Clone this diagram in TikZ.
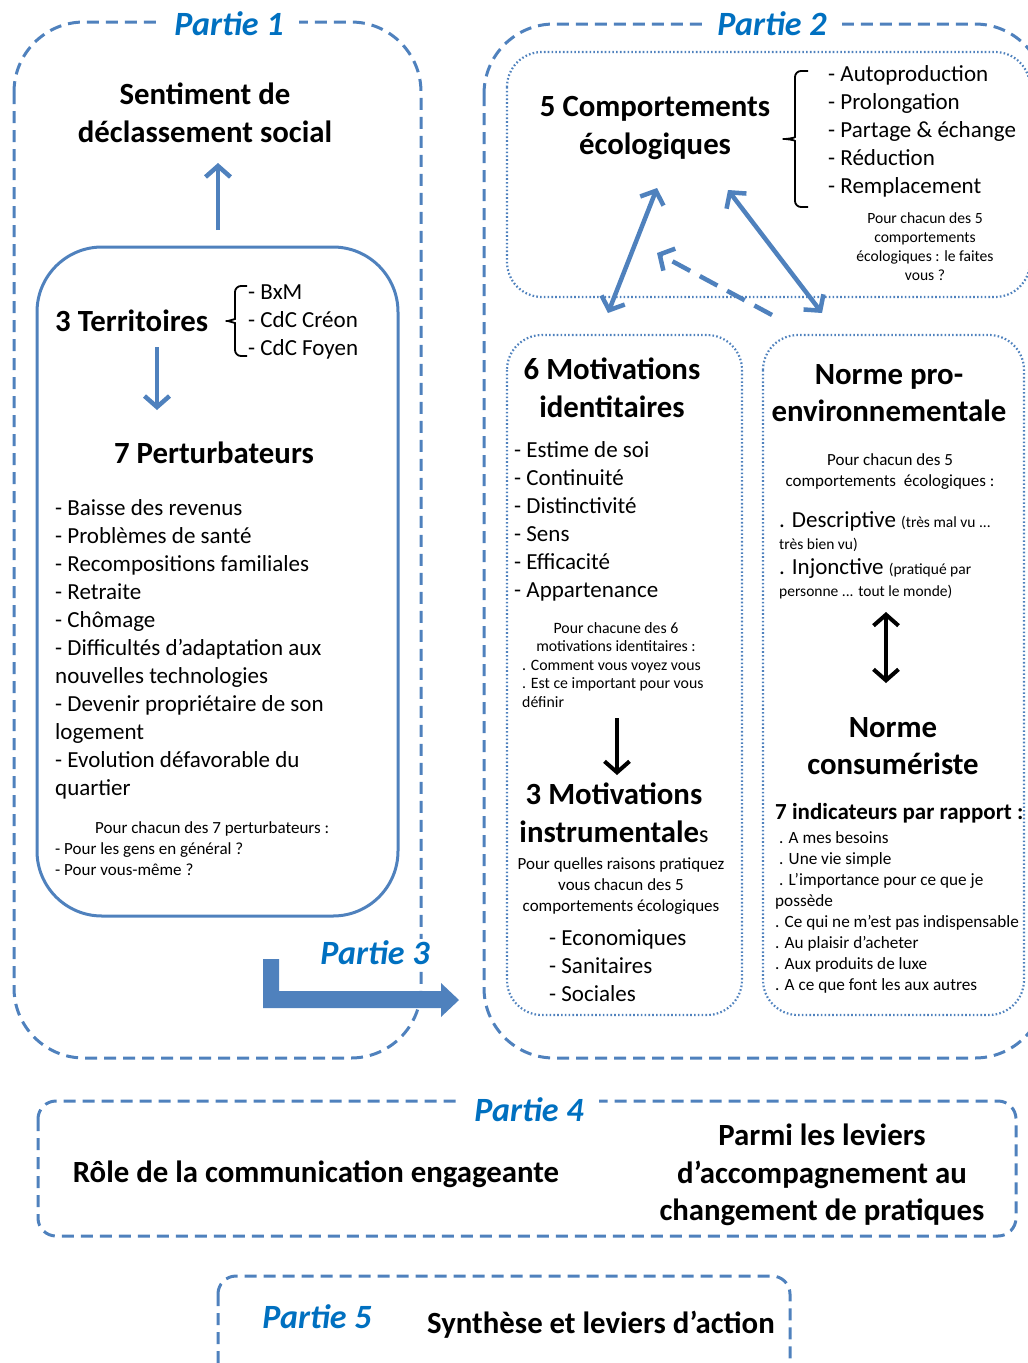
\documentclass[tikz,border=0pt]{standalone}
\usepackage{fontspec}
\setmainfont{Carlito}
\usetikzlibrary{arrows.meta}

\definecolor{lineblue}{RGB}{79,129,189}
\definecolor{titleblue}{RGB}{0,112,192}
\newcommand{\fs}[2]{\fontsize{#1}{#2}\selectfont}

\tikzset{
  part/.style={font=\fs{34}{40}\bfseries\itshape, text=titleblue, fill=white, inner xsep=15pt, inner ysep=2pt},
  head/.style={font=\fs{30.8}{37.5}\bfseries, align=center, inner sep=0pt},
  items/.style={font=\fs{23}{28}, align=left, inner sep=0pt, anchor=north west},
  note/.style={font=\fs{17}{21}, align=center, inner sep=0pt},
  dashbox/.style={draw=lineblue, line width=3pt, dash pattern=on 12pt off 7pt, rounded corners=70pt},
  dotbox/.style={draw=lineblue, line width=2.2pt, dash pattern=on 1.6pt off 2.2pt, rounded corners=35pt},
  solidbox/.style={draw=lineblue, line width=3pt, rounded corners=65pt},
  brace/.style={draw=black, line width=1.8pt, rounded corners=6pt},
  barrow/.style={draw=lineblue, line width=4.5pt},
  karrow/.style={draw=black, line width=4pt},
}

\begin{document}
\begin{tikzpicture}[x=1pt, y=-1pt, >={Straight Barb[length=11pt, width=25pt]}]
    \useasboundingbox (0,0) rectangle (1028,1363);

    % Frames
    \draw[dashbox] (14,22) rectangle (421,1058);
    \draw[dashbox] (484,24) rectangle (1045,1058);
    \draw[dotbox] (507,52) rectangle (1030,297);
    \draw[dotbox] (507,335) rectangle (742,1015);
    \draw[dotbox] (763,335) rectangle (1024,1015);
    \draw[dashbox, rounded corners=18pt] (38,1101) rectangle (1016,1236);
    \draw[dashbox, rounded corners=18pt] (218,1276) rectangle (790,1390);
    \draw[solidbox] (37,247) rectangle (398,916);

    % Partie 1
    \node[head] (sent) at (205,113) {Sentiment de\\déclassement social};
    \coordinate (up0) at (218,230);
    \coordinate (up1) at (218,163);
    \draw[barrow, ->] (up0) -- (up1);
    \node[head, anchor=west] (terr) at (55,321) {3 Territoires};
    \draw[brace] (247,286) -| (235,313) to[out=-90, in=0] (222,321) to[out=0, in=90] (235,329) |- (247,356);
    \node[items] (terrlist) at (248,285) {- BxM\\- CdC Créon\\- CdC Foyen};
    \coordinate (dn0) at (157,347);
    \coordinate (dn1) at (157,410);
    \draw[barrow, ->] (dn0) -- (dn1);
    \node[head] (pert) at (214,453) {7 Perturbateurs};
    \node[items] (pertlist) at (55,499) {- Baisse des revenus\\- Problèmes de santé\\- Recompositions familiales\\- Retraite\\- Chômage\\- Difficultés d’adaptation aux\\nouvelles technologies\\- Devenir propriétaire de son\\logement\\- Evolution défavorable du\\quartier};
    \node[note, align=left, anchor=north west] (pertnote) at (55,821) {\hspace*{40pt}Pour chacun des 7 perturbateurs :\\- Pour les gens en général ?\\- Pour vous-même ?};

    % Partie 2
    \node[head] (comp) at (655,128) {5 Comportements\\écologiques};
    \draw[brace] (808,71) -| (795,131) to[out=-90, in=0] (779,139) to[out=0, in=90] (795,147) |- (808,207);
    \node[items] (complist) at (828,65) {- Autoproduction\\- Prolongation\\- Partage \& échange\\- Réduction\\- Remplacement};
    \node[note, font=\fs{15.6}{19}] (compnote) at (925,247) {Pour chacun des 5\\comportements\\écologiques : le faites\\vous ?};
    \coordinate (ta) at (657,188);
    \coordinate (tb) at (608,313);
    \coordinate (tc) at (728,190);
    \coordinate (td) at (822,313);
    \coordinate (te) at (772,315);
    \coordinate (tf) at (657,253);
    \draw[barrow, <->] (ta) -- (tb);
    \draw[barrow, <->] (tc) -- (td);
    \draw[barrow, ->, dash pattern=on 20pt off 11pt] (te) -- (tf);

    \node[head] (motid) at (612,388) {6 Motivations\\identitaires};
    \node[items] (motidlist) at (514,441) {- Estime de soi\\- Continuité\\- Distinctivité\\- Sens\\- Efficacité\\- Appartenance};
    \node[note, font=\fs{15.8}{18.5}] (motidnote) at (616,637) {Pour chacune des 6\\motivations identitaires :};
    \node[note, font=\fs{15.8}{18.5}, align=left, anchor=north west] (motidq) at (522,660) {. Comment vous voyez vous\\. Est ce important pour vous\\définir};
    \coordinate (ka) at (617,718);
    \coordinate (kb) at (617,775);
    \draw[karrow, ->] (ka) -- (kb);
    \node[head] (motins) at (614,813) {3 Motivations\\instrumentale{\mdseries\fs{24}{37.5}s}};
    \node[note] (motinsnote) at (621,886) {Pour quelles raisons pratiquez\\vous chacun des 5\\comportements écologiques};
    \node[items] (motinslist) at (549,929) {- Economiques\\- Sanitaires\\- Sociales};

    \node[head] (npe) at (889,393) {Norme pro-\\environnementale};
    \node[note] (npenote) at (890,472) {Pour chacun des 5\\comportements\ \ écologiques :};
    \node[items, font=\fs{23}{22}] (npelist) at (779,511) {. Descriptive {\fs{15.5}{22}(très mal vu ...}\\{\fs{15.5}{22}très bien vu)}\\[3pt]. Injonctive {\fs{15.5}{22}(pratiqué par}\\{\fs{15.5}{22}personne ... tout le monde)}};
    \coordinate (kc) at (886,612);
    \coordinate (kd) at (886,683);
    \draw[karrow, <->] (kc) -- (kd);
    \node[head] (ncons) at (893,746) {Norme\\consumériste};
    \node[items, font=\fs{23}{28}\bfseries] (ncind) at (775,803) {7 indicateurs par rapport :};
    \node[items, font=\fs{17.2}{21}] (nconslist) at (775,831) {\hspace*{4pt}. A mes besoins\\\hspace*{4pt}. Une vie simple\\\hspace*{4pt}. L’importance pour ce que je\\possède\\. Ce qui ne m’est pas indispensable\\. Au plaisir d’acheter\\. Aux produits de luxe\\. A ce que font les aux autres};

    % Partie 3
    \fill[lineblue] (263,959) -- (279,959) -- (279,991) -- (441,991) -- (441,983) -- (459,1000) -- (441,1017) -- (441,1008) -- (263,1008) -- cycle;

    % Partie 4 and 5
    \node[head] (comm) at (316,1174) {Rôle de la communication engageante};
    \node[head] (levier) at (822,1175) {Parmi les leviers\\d’accompagnement au\\changement de pratiques};
    \node[head] (synth) at (601,1325) {Synthèse et leviers d’action};

    % Titles
    \node[part] (p1) at (229,24) {Partie 1};
    \node[part] (p2) at (772,24) {Partie 2};
    \node[part] (p3) at (375,953) {Partie 3};
    \node[part] (p4) at (529,1110) {Partie 4};
    \node[part] (p5) at (317,1317) {Partie 5};
\end{tikzpicture}
\end{document}
